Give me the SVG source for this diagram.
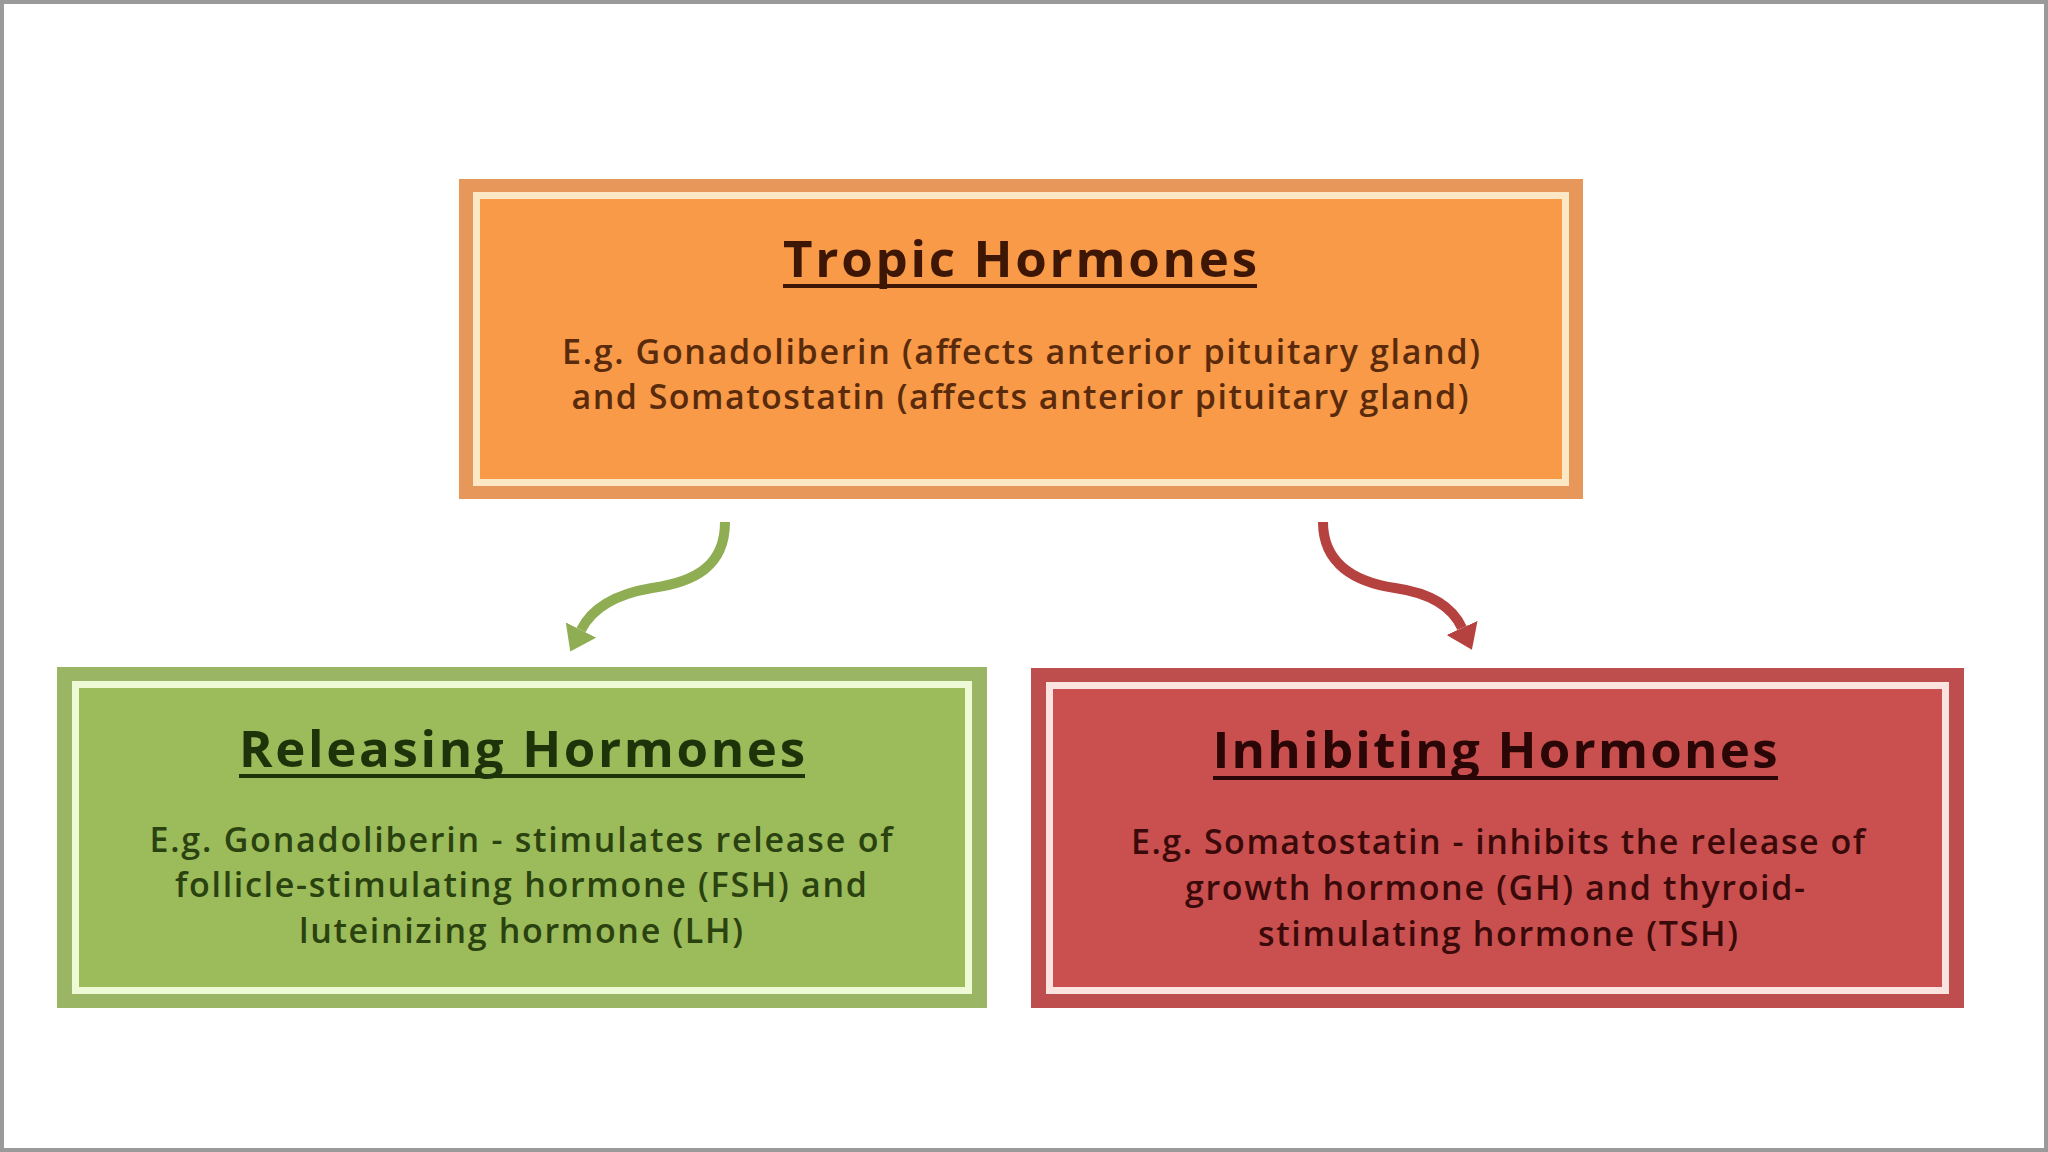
<svg xmlns="http://www.w3.org/2000/svg" width="2048" height="1152" viewBox="0 0 2048 1152">
  <style>
    .title { font-family: "Open Sans", "Liberation Sans", sans-serif; font-weight: 700; font-size: 51px; text-anchor: middle; }
    .body { font-family: "Open Sans", "Liberation Sans", sans-serif; font-weight: 600; font-size: 34px; text-anchor: middle; }
    .ul { stroke-width: 4; }
    .conn { fill: none; stroke-width: 10; stroke-linecap: butt; }
  </style>
  <defs>
    <marker id="ahGreen" viewBox="0 -17 24 34" refX="0" refY="0" markerWidth="24" markerHeight="34" markerUnits="userSpaceOnUse" orient="auto">
      <path d="M0,-17 L24,0 L0,17 Z" fill="#8FAE54"/>
    </marker>
    <marker id="ahRed" viewBox="0 -17 24 34" refX="0" refY="0" markerWidth="24" markerHeight="34" markerUnits="userSpaceOnUse" orient="auto">
      <path d="M0,-17 L24,0 L0,17 Z" fill="#B6423F"/>
    </marker>
  </defs>

  <rect x="0" y="0" width="2048" height="1152" fill="#ffffff"/>
  <rect x="2" y="2" width="2044" height="1148" fill="none" stroke="#9a9a9a" stroke-width="4"/>

  <g id="tropic">
    <rect x="459" y="179" width="1124" height="320" fill="#E8975A"/>
    <rect x="473" y="192" width="1096" height="294" fill="#FDE8C6"/>
    <rect x="480" y="199" width="1082" height="280" fill="#F89A48"/>
    <text class="title" x="1020" y="277" fill="#3E1606" textLength="474">Tropic Hormones</text>
    <line class="ul" x1="783" y1="286" x2="1257" y2="286" stroke="#3E1606"/>
    <text class="body" x="1021" y="364" fill="#5A2A0C" textLength="918">E.g. Gonadoliberin (affects anterior pituitary gland)</text>
    <text class="body" x="1020" y="409" fill="#5A2A0C" textLength="897">and Somatostatin (affects anterior pituitary gland)</text>
  </g>

  <g id="releasing">
    <rect x="57" y="667" width="930" height="341" fill="#9AB563"/>
    <rect x="72" y="681" width="900" height="313" fill="#EEFAD6"/>
    <rect x="79" y="688" width="886" height="299" fill="#9CBB5A"/>
    <text class="title" x="522" y="767" fill="#1E330A" textLength="566">Releasing Hormones</text>
    <line class="ul" x1="239" y1="776" x2="805" y2="776" stroke="#1E330A"/>
    <text class="body" x="521" y="852" fill="#2A4210" textLength="743">E.g. Gonadoliberin - stimulates release of</text>
    <text class="body" x="521" y="897" fill="#2A4210" textLength="692">follicle-stimulating hormone (FSH) and</text>
    <text class="body" x="521" y="943" fill="#2A4210" textLength="444">luteinizing hormone (LH)</text>
  </g>

  <g id="inhibiting">
    <rect x="1031" y="668" width="933" height="340" fill="#BE4E4E"/>
    <rect x="1046" y="682" width="903" height="312" fill="#FBE4E0"/>
    <rect x="1053" y="689" width="889" height="298" fill="#C9504F"/>
    <text class="title" x="1495" y="768" fill="#2A0606" textLength="565">Inhibiting Hormones</text>
    <line class="ul" x1="1213" y1="778" x2="1778" y2="778" stroke="#2A0606"/>
    <text class="body" x="1498" y="854" fill="#3A0A0A" textLength="734">E.g. Somatostatin - inhibits the release of</text>
    <text class="body" x="1495" y="900" fill="#3A0A0A" textLength="620">growth hormone (GH) and thyroid-</text>
    <text class="body" x="1498" y="946" fill="#3A0A0A" textLength="480">stimulating hormone (TSH)</text>
  </g>

  <g id="connectors">
    <path class="conn" stroke="#8FAE54" marker-end="url(#ahGreen)" d="M725,522 C725,566 695,582 652,588 C616,594 592,608 581,630"/>
    <path class="conn" stroke="#B6423F" marker-end="url(#ahRed)" d="M1323,522 C1323,564 1355,582 1395,588 C1430,593 1452,606 1462,628"/>
  </g>
</svg>
